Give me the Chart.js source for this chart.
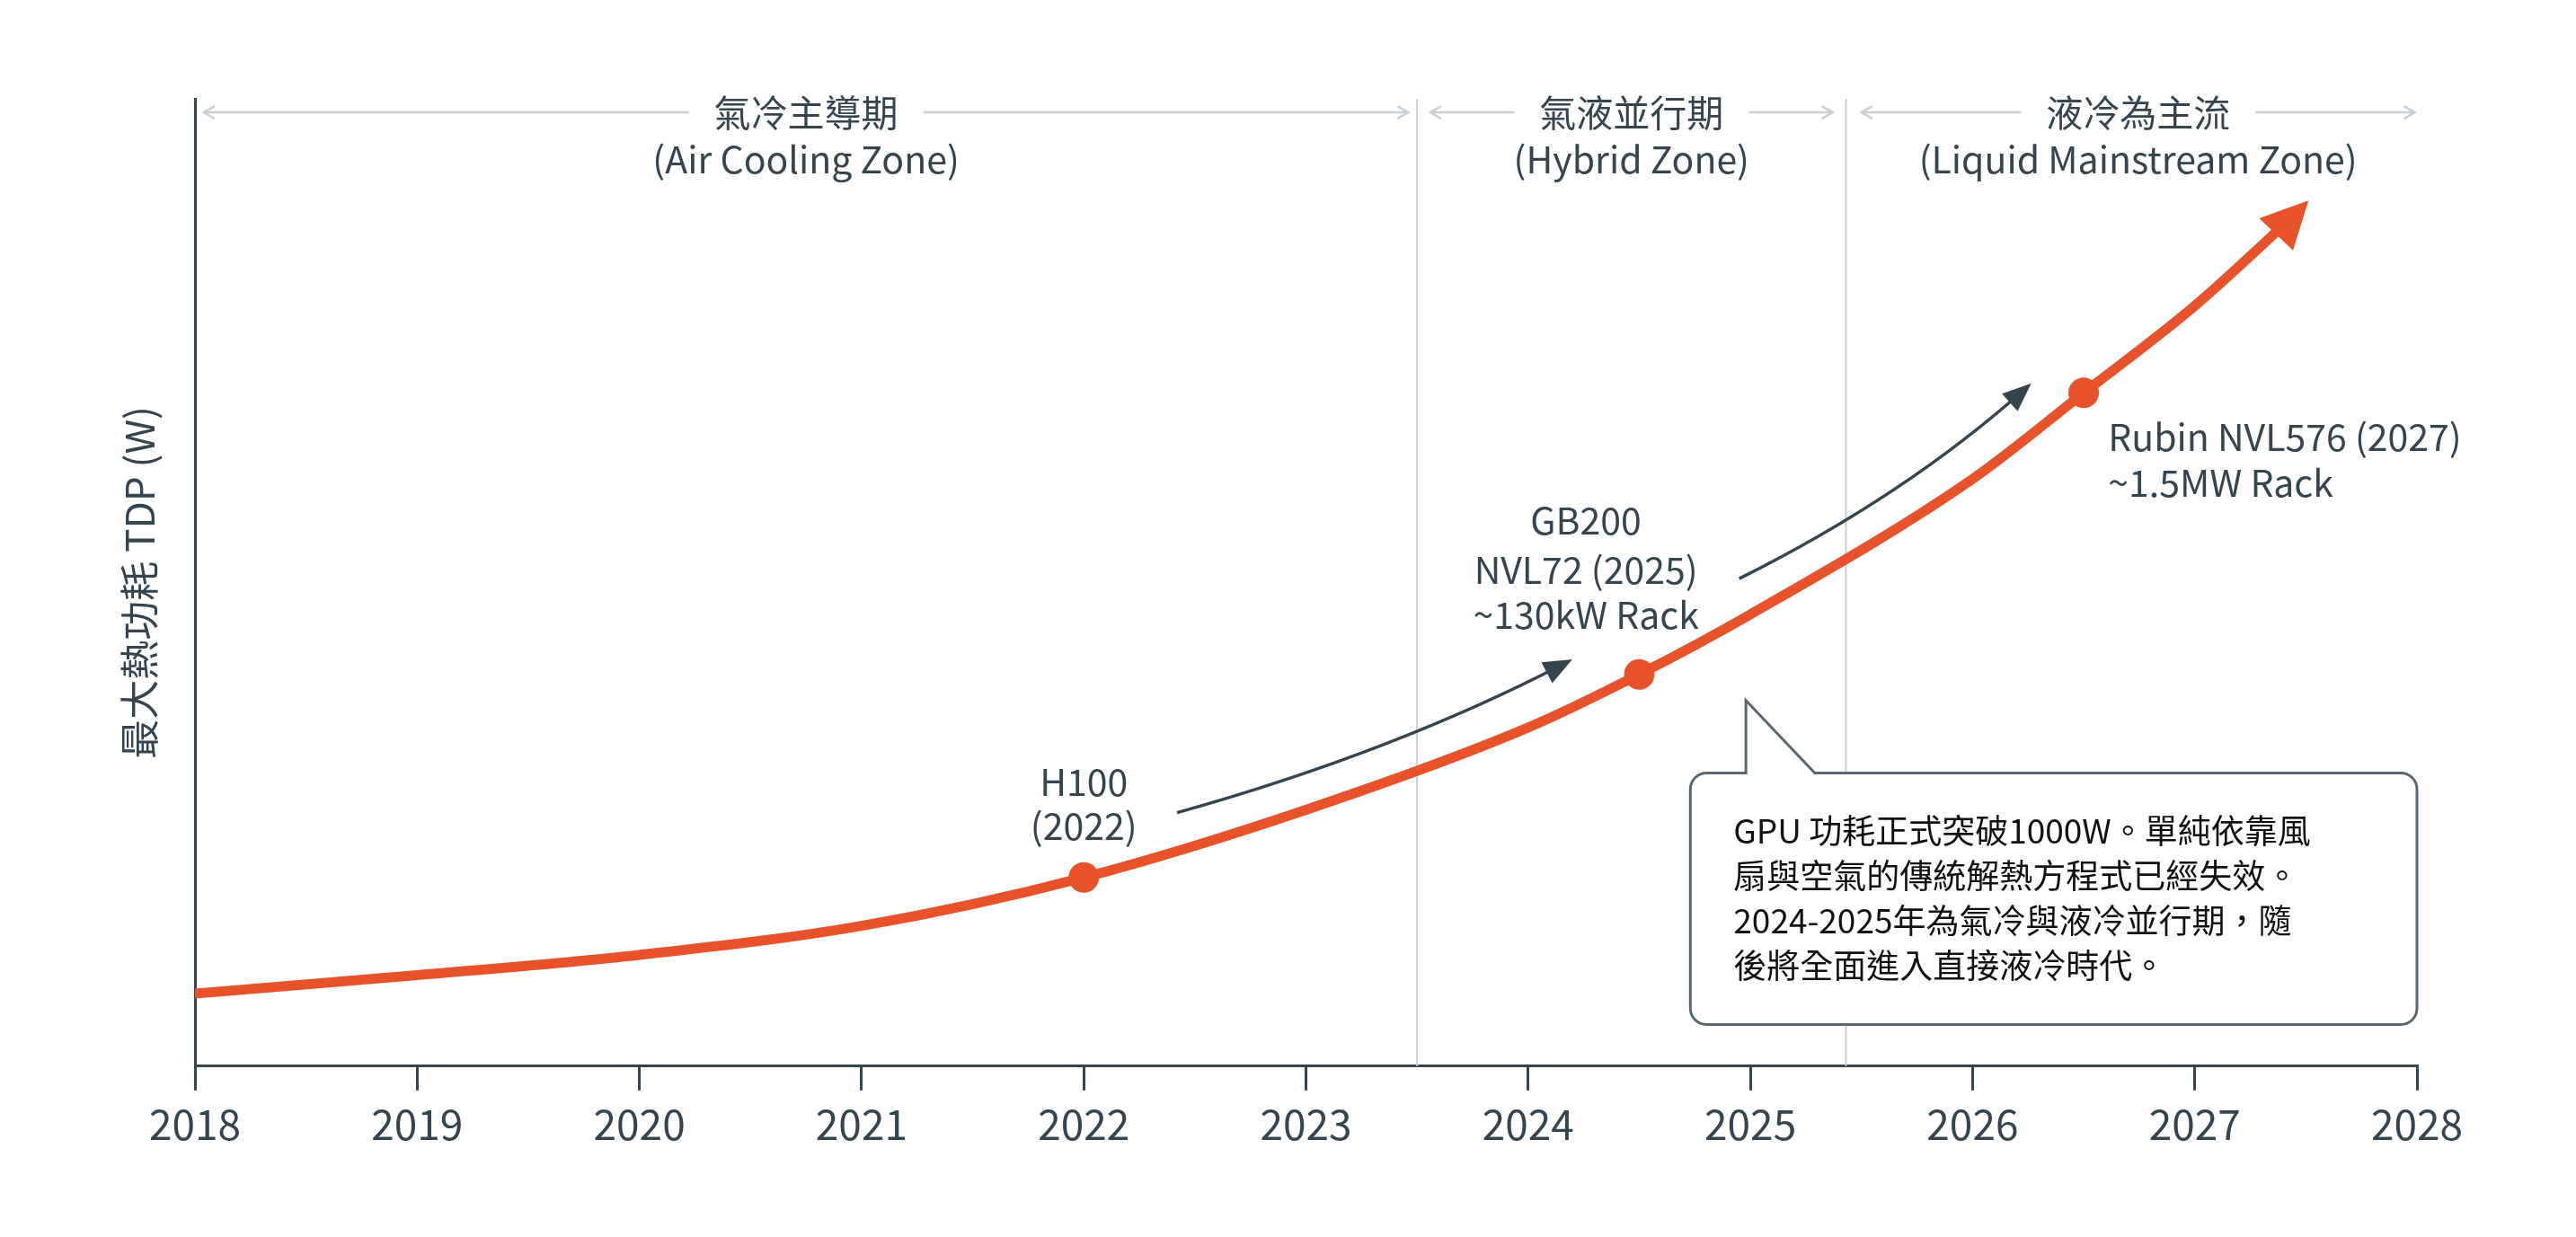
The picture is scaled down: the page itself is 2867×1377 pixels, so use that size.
<!DOCTYPE html>
<html>
<head>
<meta charset="utf-8">
<script src="https://cdn.jsdelivr.net/npm/chart.js@4"></script>
<style>
  html, body { margin: 0; padding: 0; background: #fff; }
  #wrap { width: 2867px; height: 1377px; }
</style>
</head>
<body>
<div id="wrap"><canvas id="c"></canvas></div>
<script>
// curve (arbitrary TDP scale, 0-100)
const years = [2018, 2019, 2020, 2021, 2022, 2023, 2024, 2024.5, 2025, 2026, 2026.5, 2027, 2027.45];
const tdp = [7.5, 9.4, 11.5, 14.5, 19.5, 26.5, 35, 40.5, 46.7, 60.7, 69.6, 78.6, 88];
const milestoneYears = [2022, 2024.5, 2026.5];
const milestoneTdp = [19.5, 40.5, 69.6];
const tickYears = [2018, 2019, 2020, 2021, 2022, 2023, 2024, 2025, 2026, 2027, 2028];
const zoneBreaks = [2023.5, 2025.43];

const ORANGE = '#e8522a';
const DARK = '#34454f';
const GREY = '#c9cfd3';
const FONT = '"Noto Sans CJK TC", "Noto Sans", sans-serif';

const overlay = {
  id: 'overlay',
  beforeDatasetsDraw(chart) {
    const { ctx, scales: { x, y } } = chart;
    ctx.save();
    ctx.strokeStyle = GREY;
    ctx.lineWidth = 2;
    zoneBreaks.forEach(b => {
      ctx.beginPath();
      ctx.moveTo(x.getPixelForValue(b), y.getPixelForValue(100));
      ctx.lineTo(x.getPixelForValue(b), y.bottom);
      ctx.stroke();
    });
    ctx.restore();
  },
  afterDatasetsDraw(chart) {
    const { ctx, scales: { x, y } } = chart;
    const px = v => x.getPixelForValue(v);
    const py = v => y.getPixelForValue(v);
    ctx.save();

    // arrowhead at the end of the curve
    const n = years.length;
    const x1 = px(years[n - 1]), y1 = py(tdp[n - 1]);
    const x0 = px(2027.3), y0 = py(84.4);
    const a = Math.atan2(y1 - y0, x1 - x0);
    ctx.fillStyle = ORANGE;
    ctx.beginPath();
    ctx.moveTo(x1 + 22 * Math.cos(a), y1 + 22 * Math.sin(a));
    ctx.lineTo(x1 - 30 * Math.cos(a) - 26 * Math.sin(a), y1 - 30 * Math.sin(a) + 26 * Math.cos(a));
    ctx.lineTo(x1 - 30 * Math.cos(a) + 26 * Math.sin(a), y1 - 30 * Math.sin(a) - 26 * Math.cos(a));
    ctx.closePath();
    ctx.fill();

    // dark trend arrows
    function arrow(sx, sy, cx, cy, ex, ey) {
      const X0 = px(sx), Y0 = py(sy), CX = px(cx), CY = py(cy), X1 = px(ex), Y1 = py(ey);
      ctx.strokeStyle = DARK;
      ctx.lineWidth = 3.5;
      ctx.beginPath();
      ctx.moveTo(X0, Y0);
      ctx.quadraticCurveTo(CX, CY, X1, Y1);
      ctx.stroke();
      const ang = Math.atan2(Y1 - CY, X1 - CX);
      ctx.fillStyle = DARK;
      ctx.beginPath();
      ctx.moveTo(X1 + 8 * Math.cos(ang), Y1 + 8 * Math.sin(ang));
      ctx.lineTo(X1 - 24 * Math.cos(ang) - 13 * Math.sin(ang), Y1 - 24 * Math.sin(ang) + 13 * Math.cos(ang));
      ctx.lineTo(X1 - 24 * Math.cos(ang) + 13 * Math.sin(ang), Y1 - 24 * Math.sin(ang) - 13 * Math.cos(ang));
      ctx.closePath();
      ctx.fill();
    }
    arrow(2022.42, 26.2, 2023.4, 32.5, 2024.17, 41.7);
    arrow(2024.95, 50.4, 2025.7, 59, 2026.24, 70.1);

    // text labels
    ctx.fillStyle = DARK;
    ctx.textBaseline = 'middle';
    ctx.font = '41px ' + FONT;
    ctx.textAlign = 'center';
    [['H100', 2022, 29.4], ['(2022)', 2022, 24.8],
     ['GB200', 2024.26, 56.4], ['NVL72 (2025)', 2024.26, 51.3], ['~130kW Rack', 2024.26, 46.7]]
      .forEach(t => ctx.fillText(t[0], px(t[1]), py(t[2])));
    ctx.textAlign = 'left';
    ctx.fillText('Rubin NVL576 (2027)', px(2026.61), py(65));
    ctx.fillText('~1.5MW Rack', px(2026.61), py(60.3));

    // zone headers
    const zones = [
      [2018.04, 2023.46, '氣冷主導期', '(Air Cooling Zone)'],
      [2023.56, 2025.37, '氣液並行期', '(Hybrid Zone)'],
      [2025.5, 2027.99, '液冷為主流', '(Liquid Mainstream Zone)']
    ];
    ctx.font = '41px ' + FONT;
    zones.forEach(z => {
      const l = px(z[0]), r = px(z[1]), c = (l + r) / 2, yy = py(98.6);
      const w = ctx.measureText(z[2]).width / 2 + 28;
      ctx.strokeStyle = GREY;
      ctx.lineWidth = 2.5;
      ctx.beginPath();
      ctx.moveTo(l, yy); ctx.lineTo(c - w, yy);
      ctx.moveTo(c + w, yy); ctx.lineTo(r, yy);
      ctx.moveTo(l + 12, yy - 7); ctx.lineTo(l, yy); ctx.lineTo(l + 12, yy + 7);
      ctx.moveTo(r - 12, yy - 7); ctx.lineTo(r, yy); ctx.lineTo(r - 12, yy + 7);
      ctx.stroke();
      ctx.fillStyle = DARK;
      ctx.textAlign = 'center';
      ctx.fillText(z[2], c, yy);
      ctx.fillText(z[3], c, py(93.7));
    });

    // callout box
    const bl = px(2024.73), br = px(2028), bt = py(30.3), bb = py(4.3), r = 18;
    ctx.fillStyle = '#fff';
    ctx.strokeStyle = '#5b6770';
    ctx.lineWidth = 3;
    ctx.beginPath();
    ctx.moveTo(bl + r, bt);
    ctx.lineTo(px(2024.98), bt);
    ctx.lineTo(px(2024.98), py(37.8));
    ctx.lineTo(px(2025.29), bt);
    ctx.lineTo(br - r, bt);
    ctx.arcTo(br, bt, br, bt + r, r);
    ctx.lineTo(br, bb - r);
    ctx.arcTo(br, bb, br - r, bb, r);
    ctx.lineTo(bl + r, bb);
    ctx.arcTo(bl, bb, bl, bb - r, r);
    ctx.lineTo(bl, bt + r);
    ctx.arcTo(bl, bt, bl + r, bt, r);
    ctx.closePath();
    ctx.fill();
    ctx.stroke();
    ctx.fillStyle = '#111';
    ctx.textAlign = 'left';
    ctx.font = '37px ' + FONT;
    ['GPU 功耗正式突破1000W。單純依靠風', '扇與空氣的傳統解熱方程式已經失效。',
     '2024-2025年為氣冷與液冷並行期，隨', '後將全面進入直接液冷時代。']
      .forEach((s, i) => ctx.fillText(s, bl + 48, bt + 64 + i * 50));

    // y title
    ctx.save();
    ctx.translate(155, py(50));
    ctx.rotate(-Math.PI / 2);
    ctx.fillStyle = DARK;
    ctx.textAlign = 'center';
    ctx.font = '44px ' + FONT;
    ctx.fillText('最大熱功耗 TDP (W)', 0, 0);
    ctx.restore();

    ctx.restore();
  }
};

new Chart(document.getElementById('c'), {
  type: 'line',
  data: {
    datasets: [{
      data: years.map((v, i) => ({ x: v, y: tdp[i] })),
      borderColor: ORANGE,
      borderWidth: 11,
      pointRadius: 0,
      cubicInterpolationMode: 'monotone',
      borderCapStyle: 'round'
    }, {
      data: milestoneYears.map((v, i) => ({ x: v, y: milestoneTdp[i] })),
      showLine: false,
      pointRadius: 17,
      pointBackgroundColor: ORANGE,
      pointBorderWidth: 0
    }]
  },
  options: {
    responsive: true,
    maintainAspectRatio: false,
    animation: false,
    layout: { padding: { left: 209, right: 177, top: 110, bottom: 88 } },
    plugins: { legend: { display: false }, tooltip: { enabled: false } },
    scales: {
      x: {
        type: 'linear', min: 2018, max: 2028,
        afterBuildTicks: s => { s.ticks = tickYears.map(v => ({ value: v })); },
        border: { color: DARK, width: 3 },
        grid: { drawOnChartArea: false, drawTicks: true, tickLength: 27, color: DARK, lineWidth: 3 },
        ticks: { color: DARK, font: { size: 46, family: FONT }, padding: 10, callback: v => String(v) }
      },
      y: {
        min: 0, max: 100,
        border: { color: DARK, width: 3 },
        grid: { display: false },
        ticks: { display: false }
      }
    }
  },
  plugins: [overlay]
});
</script>
</body>
</html>
